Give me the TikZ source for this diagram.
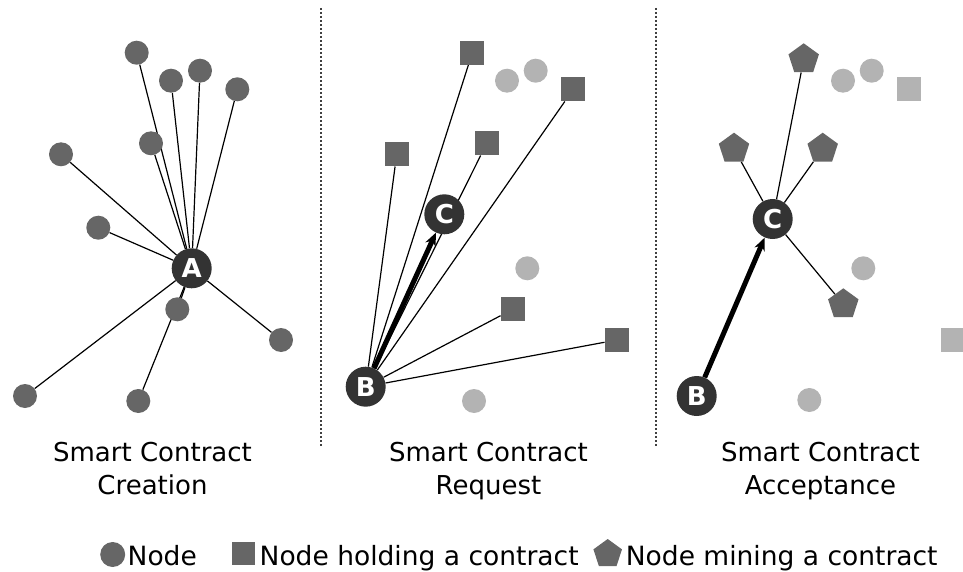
\documentclass[tikz,border=0pt]{standalone}
\usepackage{fontspec}
\setmainfont{DejaVu Sans}
\usetikzlibrary{shapes.geometric,arrows.meta}
\pgfdeclarelayer{background}
\pgfsetlayers{background,main}
\definecolor{nodegrey}{HTML}{666666}
\definecolor{fadedgrey}{HTML}{B3B3B3}
\definecolor{keynode}{HTML}{333333}
\tikzset{
  peer/.style={circle, fill=nodegrey, minimum size=24pt, inner sep=0pt},
  idle/.style={circle, fill=fadedgrey, minimum size=24pt, inner sep=0pt},
  holder/.style={rectangle, fill=nodegrey, minimum size=24pt, inner sep=0pt},
  idleholder/.style={rectangle, fill=fadedgrey, minimum size=24pt, inner sep=0pt},
  miner/.style={regular polygon, regular polygon sides=5, fill=nodegrey, minimum size=32pt, inner sep=0pt},
  keypeer/.style={circle, fill=keynode, minimum size=40pt, inner sep=0pt, text=white,
    font=\bfseries\fontsize{26}{26}\selectfont},
  link/.style={black, line width=1.2pt},
  request/.style={black, line width=5pt, -{Stealth[length=13pt,width=11pt]}},
  divider/.style={draw=black!75, line width=1.5pt, dash pattern=on 2.3pt off 1.7pt},
  caption/.style={font=\fontsize{26}{32.3}\selectfont, align=center, anchor=base, inner sep=0pt},
  legendtext/.style={font=\fontsize{26.5}{30}\selectfont, anchor=base west, inner sep=0pt},
}
\begin{document}
\begin{tikzpicture}[x=1pt,y=-1pt]
\useasboundingbox (0,0) rectangle (963,572);

% panel separators
\draw[divider] (321,8) -- (321,446);
\draw[divider] (656,8) -- (656,446);

% ---- panel 1: contract creation ----
\node[keypeer] (A) at (191.7,268.3) {A};
\node[peer] (a1) at (136.7,52.7) {};
\node[peer] (a2) at (171,80.7) {};
\node[peer] (a3) at (200,70.7) {};
\node[peer] (a4) at (237.3,89.3) {};
\node[peer] (a5) at (151,143.3) {};
\node[peer] (a6) at (61,154.3) {};
\node[peer] (a7) at (98.3,227.7) {};
\node[peer] (a8) at (177.3,309.3) {};
\node[peer] (a9) at (281,340) {};
\node[peer] (a10) at (25,396) {};
\node[peer] (a11) at (138.3,401) {};
\begin{pgfonlayer}{background}
  \foreach \n in {1,...,11} \draw[link] (A) -- (a\n);
\end{pgfonlayer}

% ---- panel 2: contract request ----
\node[keypeer] (B2) at (365.7,386.7) {B};
\node[keypeer] (C2) at (444.3,214.3) {C};
\node[holder] (r1) at (472.3,52.7) {};
\node[idle] (q1) at (507,80.7) {};
\node[idle] (q2) at (535.7,70.7) {};
\node[holder] (r2) at (573.3,89.3) {};
\node[holder] (r3) at (486.7,143.3) {};
\node[holder] (r4) at (396.7,154.3) {};
\node[idle] (q3) at (527.3,268.3) {};
\node[holder] (r5) at (512.7,309.3) {};
\node[holder] (r6) at (616.7,340) {};
\node[idle] (q4) at (474,401) {};
\begin{pgfonlayer}{background}
  \foreach \n in {1,...,6} \draw[link] (B2) -- (r\n);
\end{pgfonlayer}
\draw[request] (B2) -- (C2);

% ---- panel 3: contract acceptance ----
\node[keypeer] (B3) at (696.7,396) {B};
\node[keypeer] (C3) at (772.7,219) {C};
\node[miner] (m1) at (803.7,59.3) {};
\node[idle] (u1) at (843,80.7) {};
\node[idle] (u2) at (871.7,70.7) {};
\node[idleholder] (v1) at (909.3,89.3) {};
\node[miner] (m2) at (734,148.7) {};
\node[miner] (m3) at (822.7,148.7) {};
\node[idle] (u3) at (863.3,268.3) {};
\node[miner] (m4) at (843.3,304.3) {};
\node[idleholder] (v2) at (952.7,340) {};
\node[idle] (u4) at (809.3,400) {};
\begin{pgfonlayer}{background}
  \foreach \n in {1,...,4} \draw[link] (C3) -- (m\n);
\end{pgfonlayer}
\draw[request] (B3) -- (C3);

% ---- captions (anchored on the baseline of the last line) ----
\node[caption] (t1) at (152.5,494) {Smart Contract\\Creation};
\node[caption] (t2) at (488.5,494) {Smart Contract\\Request};
\node[caption] (t3) at (820.5,494) {Smart Contract\\Acceptance};

% ---- legend ----
\node[peer, minimum size=25pt] (k1) at (112.7,554.5) {};
\node[legendtext] (l1) at (127.5,565) {Node};
\node[holder, minimum size=23pt] (k2) at (243.3,553) {};
\node[legendtext] (l2) at (259.5,565) {Node holding a contract};
\node[miner, minimum size=30pt] (k3) at (607.7,554) {};
\node[legendtext] (l3) at (625.7,565) {Node mining a contract};
\end{tikzpicture}
\end{document}
